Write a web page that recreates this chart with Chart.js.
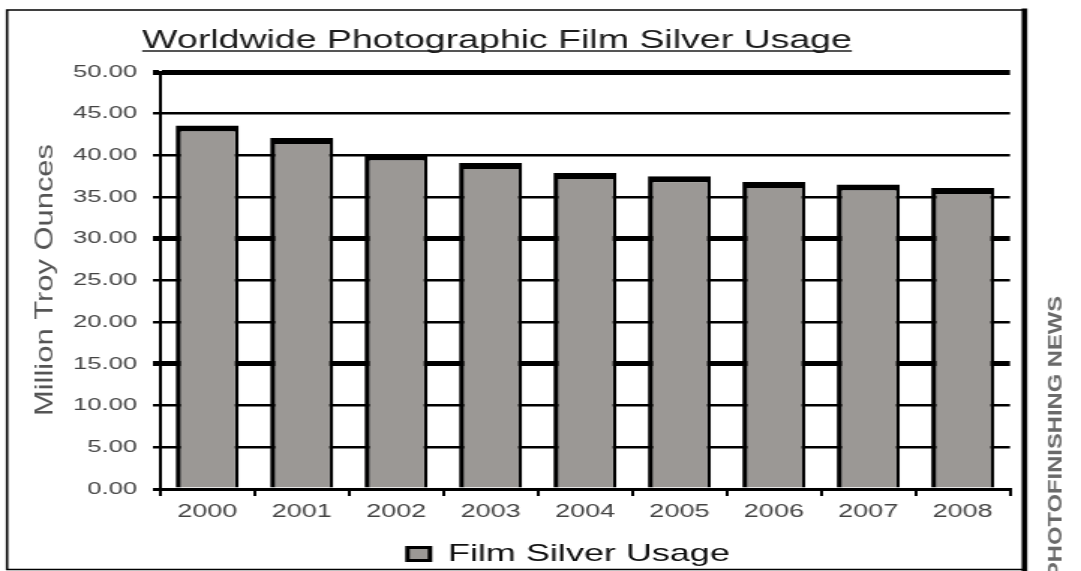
<!DOCTYPE html>
<html>
<head>
<meta charset="utf-8">
<script src="https://cdn.jsdelivr.net/npm/chart.js@4.4.1/dist/chart.umd.min.js"></script>
<style>
  html, body { margin: 0; padding: 0; background: #fff; overflow: hidden; }
  /* the picture is stretched sideways, so draw narrow and widen */
  #wrap { width: 721px; height: 571px; transform: scaleX(1.49931); transform-origin: 0 0; }
</style>
</head>
<body>
<div id="wrap"><canvas id="chart" width="721" height="571"></canvas></div>
<script>
'use strict';

const YEARS = ['2000', '2001', '2002', '2003', '2004', '2005', '2006', '2007', '2008'];
const SILVER_USAGE = [43.6, 42.1, 40.1, 39.1, 37.9, 37.5, 36.8, 36.5, 36.1];
const Y_TICK_LABELS = ['0.00', '5.00', '10.00', '15.00', '20.00', '25.00', '30.00', '35.00', '40.00', '45.00', '50.00'];
const HEAVY_LINES = [15, 30, 50];

const TITLE = 'Worldwide Photographic Film Silver Usage';
const Y_TITLE = 'Million Troy Ounces';
const STAMP = 'PHOTOFINISHING NEWS';
const FONT = '"Liberation Sans", Arial, sans-serif';

Chart.defaults.font.family = FONT;

// frame, title, rotated texts
const decor = {
  id: 'decor',
  afterLayout(chart) {
    // legend sits a little right of the centre in the original
    chart.legend.left += 37.5;
    chart.legend.right += 37.5;
  },
  beforeDraw(chart) {
    const c = chart.ctx;
    c.save();
    c.fillStyle = '#fff';
    c.fillRect(0, 0, chart.width, chart.height);
    c.restore();
  },
  afterDraw(chart) {
    const c = chart.ctx;
    c.save();
    c.strokeStyle = '#000';
    c.lineWidth = 1.6;
    c.beginPath();
    c.moveTo(683.3, 10); c.lineTo(4.7, 10); c.lineTo(4.7, 569.5); c.lineTo(683.3, 569.5);
    c.stroke();
    c.lineWidth = 3.7;
    c.beginPath(); c.moveTo(683.3, 8.5); c.lineTo(683.3, 571); c.stroke();

    // title, underlined
    c.font = '25px ' + FONT;
    c.fillStyle = '#1c1c1c';
    c.textAlign = 'center';
    c.textBaseline = 'alphabetic';
    c.fillText(TITLE, 331.5, 48);
    const w = c.measureText(TITLE).width;
    c.lineWidth = 1.6;
    c.strokeStyle = '#1c1c1c';
    c.beginPath(); c.moveTo(331.5 - w / 2, 51); c.lineTo(331.5 + w / 2, 51); c.stroke();

    // y axis title
    c.save();
    c.font = '16px ' + FONT;
    c.fillStyle = '#555';
    c.translate(30.5, 280);
    c.rotate(-Math.PI / 2);
    c.scale(272 / c.measureText(Y_TITLE).width, 1);
    c.textAlign = 'center';
    c.textBaseline = 'middle';
    c.fillText(Y_TITLE, 0, 0);
    c.restore();

    // side stamp
    c.save();
    c.font = 'bold 12px ' + FONT;
    c.fillStyle = '#6a6a6a';
    c.translate(704.5, 578);
    c.rotate(-Math.PI / 2);
    c.scale(282 / c.measureText(STAMP).width, 1);
    c.textAlign = 'left';
    c.textBaseline = 'middle';
    c.fillText(STAMP, 0, 0);
    c.restore();

    c.restore();
  }
};

new Chart(document.getElementById('chart'), {
  type: 'bar',
  data: {
    labels: YEARS,
    datasets: [{
      label: 'Film Silver Usage',
      data: SILVER_USAGE,
      backgroundColor: '#9b9895',
      borderColor: '#000',
      borderWidth: { left: 3.5, right: 2.5, top: 6, bottom: 0 },
      borderSkipped: 'start',
      categoryPercentage: 1,
      barPercentage: 0.667,
    }]
  },
  options: {
    responsive: false,
    animation: false,
    devicePixelRatio: 1,
    layout: { padding: { left: 10, right: 47.4, top: 72, bottom: 0 } },
    plugins: {
      title: { display: false },
      tooltip: { enabled: false },
      legend: {
        position: 'bottom',
        maxHeight: 39,
        labels: {
          boxWidth: 15,
          boxHeight: 13,
          padding: 10,
          color: '#111',
          font: { size: 24 },
        },
      },
    },
    scales: {
      x: {
        afterFit: s => { s.height = 43; },
        grid: {
          offset: true,
          drawOnChartArea: false,
          tickLength: 7,
          lineWidth: 2,
          color: '#000',
        },
        border: { display: true, width: 3, color: '#000' },
        ticks: { color: '#444', font: { size: 18 }, padding: 5 },
      },
      y: {
        min: 0,
        max: 50,
        afterFit: s => { s.width = 96.7; },
        grid: {
          color: '#000',
          tickLength: 4.7,
          lineWidth: c => c.tick.value === 0 ? 3 : (HEAVY_LINES.includes(c.tick.value) ? 5 : 2.5),
        },
        border: { display: true, width: 2, color: '#000' },
        ticks: {
          stepSize: 5,
          color: '#444',
          padding: 10.6,
          font: { size: 17 },
          callback: (v, i) => Y_TICK_LABELS[i],
        },
      },
    },
  },
  plugins: [decor],
});
</script>
</body>
</html>
